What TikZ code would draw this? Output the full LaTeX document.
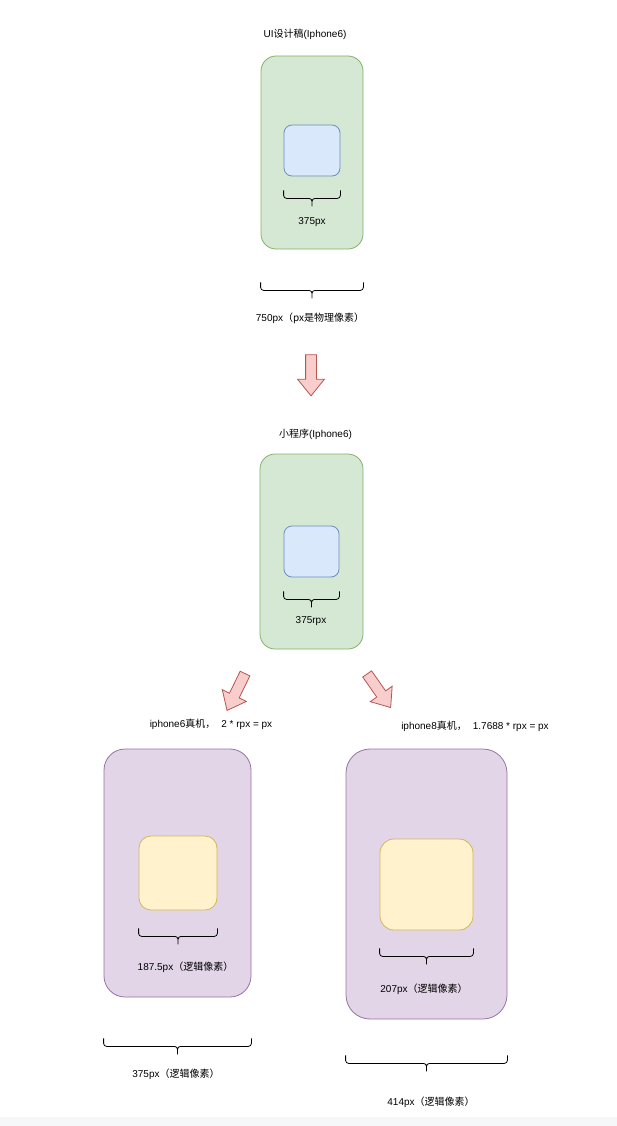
\documentclass[tikz,border=0pt]{standalone}
\usepackage{fontspec}
\setmainfont{Liberation Sans}
\newfontfamily\cjk{Noto Sans CJK SC}
\usepackage{xcolor}
\usepackage{tikz}
\usetikzlibrary{positioning}
\usetikzlibrary{shapes.arrows}
\usetikzlibrary{calc}

\definecolor{greenfill}{HTML}{D5E8D4}
\definecolor{greenline}{HTML}{82B366}
\definecolor{bluefill}{HTML}{DAE8FC}
\definecolor{blueline}{HTML}{6C8EBF}
\definecolor{purplefill}{HTML}{E1D5E7}
\definecolor{purpleline}{HTML}{9673A6}
\definecolor{yellowfill}{HTML}{FFF2CC}
\definecolor{yellowline}{HTML}{D6B656}
\definecolor{redfill}{HTML}{F8CECC}
\definecolor{redline}{HTML}{B85450}
\definecolor{bandgray}{HTML}{F6F7F9}

\begin{document}
\begin{tikzpicture}[x=1pt,y=-1pt,font=\fontsize{10}{12}\selectfont,
phone/.style={draw=greenline,fill=greenfill,rectangle,rounded corners=15pt,
line width=0.8pt,inner sep=0pt},
screen/.style={draw=blueline,fill=bluefill,rectangle,rounded corners=8pt,
line width=0.8pt,inner sep=0pt},
device/.style={draw=purpleline,fill=purplefill,rectangle,rounded corners=21pt,
line width=0.8pt,inner sep=0pt},
block/.style={draw=yellowline,fill=yellowfill,rectangle,rounded corners=12pt,
line width=0.8pt,inner sep=0pt},
bigarrow/.style={single arrow,draw=redline,fill=redfill,line width=0.8pt,
minimum height=41pt,inner sep=5pt,single arrow head extend=8pt,
single arrow tip angle=78,single arrow head indent=0pt},
lbl/.style={inner sep=0pt,align=center},
brc/.style={line width=0.8pt,rounded corners=3pt,
to path={let \p1=(\tikztostart), \p2=(\tikztotarget) in
(\p1) -- (\x1,\y1-8pt) -- ({(\x1+\x2)/2},\y1-8pt) -- ({(\x1+\x2)/2},\y1-16pt)
(\p2) -- (\x2,\y2-8pt) -- ({(\x1+\x2)/2},\y2-8pt) -- ({(\x1+\x2)/2},\y2-16pt)}}]
\useasboundingbox (0,0) rectangle (617,1126);
\fill[bandgray] (0,1117) rectangle (617,1126);

% design draft
\node[lbl] (title1) at (305,34) {UI{\cjk 设计稿}(Iphone6)};
\node[phone,minimum width=102pt,minimum height=193pt] (phone1) at (312,152.5) {};
\node[screen,minimum width=56pt,minimum height=51pt] (scr1) at (312,150.5) {};
\draw[brc] ([yshift=-14pt]scr1.south west) to ([yshift=-14pt]scr1.south east);
\node[lbl] (w1) at (312,222) {375px};
\draw[brc] ([yshift=-33pt]phone1.south west) to ([yshift=-33pt]phone1.south east);
\node[lbl] (w2) at (310,318) {750px{\cjk （px是物理像素）}};

\node[bigarrow,rotate=-90] (arr1) at (311,372) {};

% mini program
\node[lbl] (title2) at (315.5,434) {{\cjk 小程序}(Iphone6)};
\node[phone,minimum width=103pt,minimum height=195pt] (phone2) at (311.5,551.5) {};
\node[screen,minimum width=55pt,minimum height=51pt] (scr2) at (311.5,551.5) {};
\draw[brc] ([yshift=-14pt]scr2.south west) to ([yshift=-14pt]scr2.south east);
\node[lbl] (w3) at (311,621) {375rpx};

\node[bigarrow,rotate=244] (arr2) at (237.5,689) {};
\node[bigarrow,rotate=-55] (arr3) at (377,688) {};

% real devices
\node[lbl] (dev6) at (211,724) {iphone6{\cjk 真机，}\hspace{6pt}2 * rpx = px};
\node[lbl] (dev8) at (475,726) {iphone8{\cjk 真机，}\hspace{6pt}1.7688 * rpx = px};

\node[device,minimum width=147pt,minimum height=248pt] (ph6) at (177.5,873) {};
\node[block,minimum width=78pt,minimum height=74pt] (blk6) at (178,873) {};
\draw[brc] ([yshift=-18pt]blk6.south west) to ([yshift=-18pt]blk6.south east);
\node[lbl] (w4) at (185.5,967) {187.5px{\cjk （逻辑像素）}};
\draw[brc] ([yshift=-41pt]ph6.south west) to ([yshift=-41pt]ph6.south east);
\node[lbl] (w5) at (176,1074) {375px{\cjk （逻辑像素）}};

\node[device,minimum width=161pt,minimum height=270pt,rounded corners=24pt] (ph8) at (426.5,884) {};
\node[block,minimum width=93pt,minimum height=91pt,rounded corners=14pt] (blk8) at (426.5,884.5) {};
\draw[brc] ([yshift=-18pt]blk8.south west) to ([yshift=-18pt]blk8.south east);
\node[lbl] (w6) at (424,989) {207px{\cjk （逻辑像素）}};
\draw[brc] ([yshift=-36pt]ph8.south west) to ([yshift=-36pt]ph8.south east);
\node[lbl] (w7) at (431,1102) {414px{\cjk （逻辑像素）}};
\end{tikzpicture}
\end{document}
